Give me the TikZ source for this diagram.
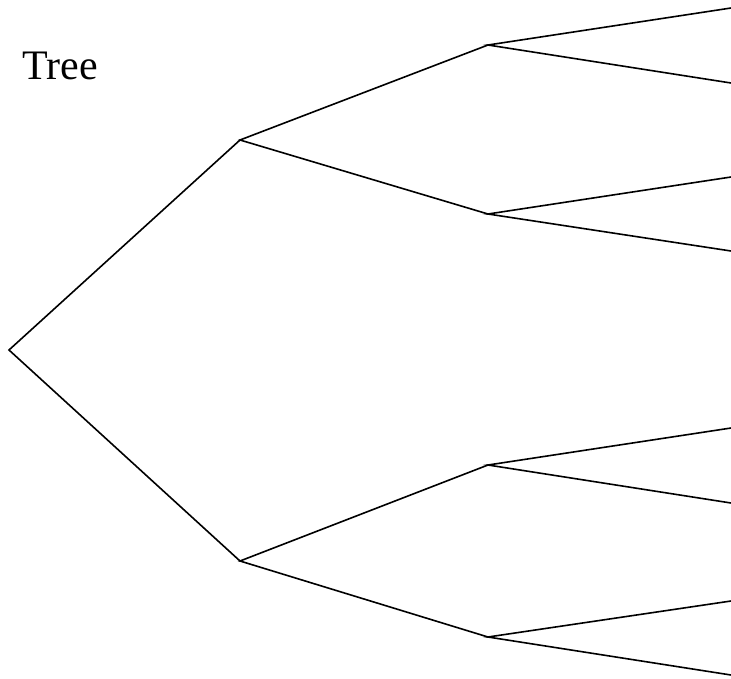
\documentclass[tikz,border=0pt]{standalone}
\usepackage{fontspec}
\setmainfont{Liberation Serif}
\begin{document}
\begin{tikzpicture}[x=1pt,y=-1pt,
  edge/.style={line width=1.6pt, line join=miter},
  pt/.style={inner sep=0pt, minimum size=0pt}]
\useasboundingbox (0,0) rectangle (731,678);
\node[anchor=base west, inner sep=0pt, font=\fontsize{42}{48}\selectfont] (title) at (22,79) {Tree};
\coordinate (r) at (9,350);
\coordinate (a) at (240,140);
\coordinate (b) at (240,561);
\coordinate (aa) at (488,45);
\coordinate (ab) at (488,214);
\coordinate (ba) at (488,465);
\coordinate (bb) at (488,637);
\coordinate (l1) at (731,8);
\coordinate (l2) at (731,83);
\coordinate (l3) at (731,177);
\coordinate (l4) at (731,251);
\coordinate (l5) at (731,428);
\coordinate (l6) at (731,503);
\coordinate (l7) at (731,601);
\coordinate (l8) at (731,675);
\draw[edge] (a) -- (r) -- (b);
\draw[edge] (aa) -- (a) -- (ab);
\draw[edge] (ba) -- (b) -- (bb);
\draw[edge] (l1) -- (aa) -- (l2);
\draw[edge] (l3) -- (ab) -- (l4);
\draw[edge] (l5) -- (ba) -- (l6);
\draw[edge] (l7) -- (bb) -- (l8);
\end{tikzpicture}
\end{document}
